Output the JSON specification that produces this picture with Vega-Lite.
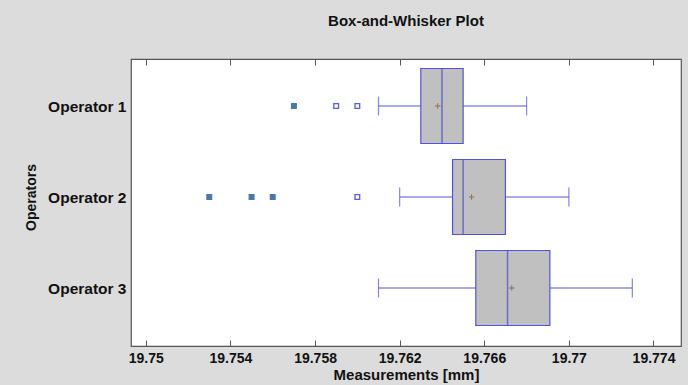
{
  "$schema": "https://vega.github.io/schema/vega-lite/v6.json",
  "autosize": "none",
  "width": 550,
  "height": 287,
  "padding": {"left": 131, "top": 59, "right": 7, "bottom": 39},
  "background": "#dcdcdc",
  "title": {"text": "Box-and-Whisker Plot", "font": "Liberation Sans", "fontSize": 15, "fontWeight": "bold", "color": "#111", "offset": 30},
  "config": {
    "view": {"fill": "white", "stroke": "#555", "strokeWidth": 1.2},
    "axis": {"labelFont": "Liberation Sans", "titleFont": "Liberation Sans", "labelFontWeight": "bold", "titleFontWeight": "bold", "labelColor": "#111", "titleColor": "#111", "grid": false}
  },
  "datasets": {
    "stats": [
      {"operator": "Operator 1", "lower": 19.761, "q1": 19.763, "median": 19.764, "q3": 19.765, "upper": 19.768, "mean": 19.7638},
      {"operator": "Operator 2", "lower": 19.762, "q1": 19.7645, "median": 19.765, "q3": 19.767, "upper": 19.770, "mean": 19.7654},
      {"operator": "Operator 3", "lower": 19.761, "q1": 19.7656, "median": 19.7671, "q3": 19.7691, "upper": 19.773, "mean": 19.7673}
    ],
    "outliers": [
      {"operator": "Operator 1", "value": 19.757, "kind": "far"},
      {"operator": "Operator 1", "value": 19.759, "kind": "mild"},
      {"operator": "Operator 1", "value": 19.760, "kind": "mild"},
      {"operator": "Operator 2", "value": 19.753, "kind": "far"},
      {"operator": "Operator 2", "value": 19.755, "kind": "far"},
      {"operator": "Operator 2", "value": 19.756, "kind": "far"},
      {"operator": "Operator 2", "value": 19.760, "kind": "mild"}
    ]
  },
  "data": {"name": "stats"},
  "encoding": {
    "y": {
      "field": "operator", "type": "nominal",
      "scale": {"type": "point", "domain": ["Operator 1", "Operator 2", "Operator 3"], "range": [47, 229], "padding": 0},
      "axis": {"title": "Operators", "ticks": false, "domain": false, "labelFontSize": 15.5, "titleFontSize": 14, "labelPadding": 5, "titlePadding": 9}
    }
  },
  "resolve": {"axis": {"x": "independent"}},
  "layer": [
    {
      "mark": {"type": "rule", "color": "#5252e0", "strokeWidth": 1},
      "encoding": {
        "x": {"field": "lower", "type": "quantitative",
          "scale": {"domain": [19.7493, 19.7753], "nice": false, "zero": false},
          "axis": {"orient": "bottom", "title": "Measurements [mm]", "values": [19.75, 19.754, 19.758, 19.762, 19.766, 19.77, 19.774], "format": ".5~f", "tickSize": -6, "tickColor": "#555", "domain": false, "labelFontSize": 14, "titleFontSize": 15, "labelPadding": 11, "titlePadding": 2}},
        "x2": {"field": "q1"}
      }
    },
    {
      "mark": {"type": "rule", "color": "#5252e0", "strokeWidth": 1},
      "encoding": {
        "x": {"field": "q3", "type": "quantitative",
          "axis": {"orient": "top", "title": null, "labels": false, "values": [19.75, 19.754, 19.758, 19.762, 19.766, 19.77, 19.774], "tickSize": -6, "tickColor": "#555", "domain": false}},
        "x2": {"field": "upper"}
      }
    },
    {
      "mark": {"type": "tick", "color": "#5252e0", "thickness": 1.2, "size": 19},
      "encoding": {"x": {"field": "lower", "type": "quantitative", "axis": null}}
    },
    {
      "mark": {"type": "tick", "color": "#5252e0", "thickness": 1.2, "size": 19},
      "encoding": {"x": {"field": "upper", "type": "quantitative", "axis": null}}
    },
    {
      "mark": {"type": "bar", "fill": "#c0c0c0", "stroke": "#5252e0", "strokeWidth": 1.2, "size": 75},
      "encoding": {
        "x": {"field": "q1", "type": "quantitative", "axis": null},
        "x2": {"field": "q3"}
      }
    },
    {
      "mark": {"type": "tick", "color": "#4646d8", "thickness": 1.5, "size": 75},
      "encoding": {"x": {"field": "median", "type": "quantitative", "axis": null}}
    },
    {
      "mark": {"type": "point", "shape": "M-1,0H1M0,-1V1", "filled": false, "size": 30, "strokeWidth": 1, "color": "#9a6a4a", "opacity": 1},
      "encoding": {"x": {"field": "mean", "type": "quantitative", "axis": null}}
    },
    {
      "data": {"name": "outliers"},
      "mark": {"type": "point", "shape": "square", "size": 22, "strokeWidth": 1.3, "filled": false},
      "encoding": {
        "x": {"field": "value", "type": "quantitative", "axis": null},
        "fill": {"field": "kind", "type": "nominal", "scale": {"domain": ["far", "mild"], "range": ["#4a78a8", "#ffffff"]}, "legend": null},
        "stroke": {"field": "kind", "type": "nominal", "scale": {"domain": ["far", "mild"], "range": ["#4a78a8", "#5a5ae6"]}, "legend": null},
        "opacity": {"value": 1},
        "fillOpacity": {"value": 1}
      }
    }
  ]
}
